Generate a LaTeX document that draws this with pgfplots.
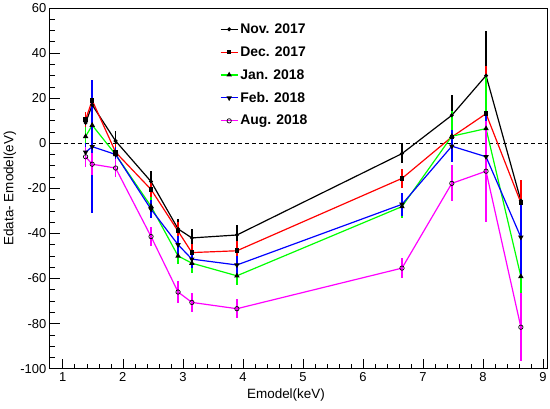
\documentclass[border=0pt]{standalone}
\usepackage{fontspec}
\setmainfont{Liberation Sans}
\usepackage{pgfplots}
\pgfplotsset{compat=1.18}
\usepackage{pgfplotstable}
\definecolor{rgreen}{RGB}{0,255,0}
\definecolor{rblue}{RGB}{0,0,255}
\definecolor{rred}{RGB}{255,0,0}
\definecolor{rmag}{RGB}{255,0,255}
\pgfplotstableread{
x y e
1.38 9 4
1.49 17 3
1.88 1 4.5
2.47 -17 4.5
2.92 -38 4.5
3.15 -42 4
3.90 -40.7 4.3
6.65 -4.6 4.3
7.48 12.4 9
8.05 30 20
8.63 -25.5 4
}\nov
\pgfplotstableread{
x y e
1.38 10.5 3.5
1.49 19 3
1.88 -4 3.5
2.47 -20.5 4
2.92 -39 4
3.15 -48.5 4
3.90 -47.7 4.5
6.65 -15.6 4.3
7.48 2.8 10
8.05 13.1 21
8.63 -26.4 10
}\dec
\pgfplotstableread{
x y e
1.38 3 4.4
1.49 8 3
1.88 -5 3
2.47 -28 4
2.92 -50 3.5
3.15 -53.2 4.4
3.90 -58.8 4
6.65 -28.1 5
7.48 3.1 11
8.05 6.5 23
8.63 -59.1 18
}\jan
\pgfplotstableread{
x y e
1.38 -4 4
1.49 -1.5 29.5
1.88 -5 3.5
2.47 -29.3 4
2.92 -45 4
3.15 -51.4 4
3.90 -54 4
6.65 -27.1 5
7.48 -1.3 7
8.05 -6 20
8.63 -41.7 17
}\feb
\pgfplotstableread{
x y e
1.38 -6 4.4
1.49 -9.3 5
1.88 -11 4
2.47 -41.4 4.4
2.92 -66 4.8
3.15 -70.6 4.3
3.90 -73.4 4.3
6.65 -55.4 4.3
7.48 -17.8 8
8.05 -12.4 22.4
8.63 -81.6 15
}\aug
\begin{document}
\begin{tikzpicture}
\begin{axis}[
  at={(0,0)}, anchor=south west,
  scale only axis, width=499pt, height=362pt,
  xmin=0.784, xmax=9.066, ymin=-100, ymax=60,
  xtick={1,2,...,9}, ytick={-100,-80,...,60},
  minor x tick num=4, minor y tick num=3,
  tick align=inside, xtick pos=bottom, ytick pos=left,
  major tick length=10pt, minor tick length=5pt,
  every tick/.style={black, line width=0.6pt},
  axis line style={line width=0.8pt},
  tick label style={font=\fontsize{13}{15}\selectfont},
  /pgf/number format/assume math mode=true,
  xlabel={Emodel(keV)}, ylabel={Edata- Emodel(eV)},
  label style={font=\fontsize{13.5}{16}\selectfont},
  xlabel style={at={(axis description cs:0.475,0)}, anchor=center, yshift=-26pt},
  ylabel style={at={(axis description cs:-0.0802,0.5)}, anchor=center, rotate=0},
  legend style={draw=none, fill=none, at={(axis description cs:0.336,0.968)}, anchor=north west,
    font=\bfseries\fontsize{14}{16}\selectfont, row sep=7.6pt},
  legend cell align=left,
  error bars/y dir=both, error bars/y explicit,
  error bars/error mark=none,
]
\addplot[black, line width=1.2pt, dash pattern=on 4pt off 3pt, forget plot, error bars/y dir=none] coordinates {(0.784,0) (9.066,0)};
\addplot[black, line width=1.2pt, mark=*, mark size=1.3pt, mark options={solid, black, fill=black},
  error bars/error bar style={black, line width=1.6pt}] table[x=x, y=y, y error=e] {\nov};
\addlegendentry{Nov. 2017}
\addplot[rred, line width=1.2pt, mark=square*, mark size=1.7pt, mark options={solid, black, fill=black},
  error bars/error bar style={rred, line width=1.6pt}] table[x=x, y=y, y error=e] {\dec};
\addlegendentry{Dec. 2017}
\addplot[rgreen, line width=1.2pt, mark=triangle*, mark size=2pt, mark options={solid, black, fill=black},
  error bars/error bar style={rgreen, line width=1.6pt}] table[x=x, y=y, y error=e] {\jan};
\addlegendentry{Jan. 2018}
\addplot[rblue, line width=1.2pt, mark=triangle*, mark size=2pt, mark options={solid, black, fill=black, rotate=180},
  error bars/error bar style={rblue, line width=1.6pt}] table[x=x, y=y, y error=e] {\feb};
\addlegendentry{Feb. 2018}
\addplot[rmag, line width=1.2pt, mark=o, mark size=2.2pt, mark options={solid, black, line width=0.7pt},
  error bars/error bar style={rmag, line width=1.6pt}] table[x=x, y=y, y error=e] {\aug};
\addlegendentry{Aug. 2018}
\end{axis}
\path (-50pt,-40pt) rectangle (500pt,370pt);
\end{tikzpicture}
\end{document}
